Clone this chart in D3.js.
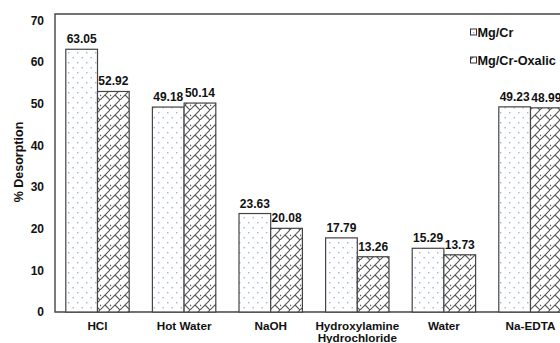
<!DOCTYPE html>
<html><head><meta charset="utf-8">
<script src="https://cdn.jsdelivr.net/npm/d3@7"></script>
<style>body{margin:0;background:#fff}svg{display:block;font-family:"Liberation Sans",Arial,sans-serif;font-weight:bold}</style>
</head><body><svg id="c" width="560" height="343"></svg>
<script>
const categories = ["HCl","Hot Water","NaOH","Hydroxylamine\nHydrochloride","Water","Na-EDTA"];
const series = ["Mg/Cr","Mg/Cr-Oxalic"];
const mgCr = [63.05,49.18,23.63,17.79,15.29,49.23];
const mgCrOxalic = [52.92,50.14,20.08,13.26,13.73,48.99];
const yTicks = [0,10,20,30,40,50,60,70];

const svg = d3.select("#c");
const defs = svg.append("defs");
const dots = defs.append("pattern").attr("id","dots").attr("patternUnits","userSpaceOnUse")
  .attr("width",9).attr("height",10).attr("x",66).attr("y",0);
dots.append("rect").attr("width",9).attr("height",10).attr("fill","#fff");
dots.append("rect").attr("x",2).attr("y",2).attr("width",1.4).attr("height",1.4).attr("fill","#a3aeea");
dots.append("rect").attr("x",6.5).attr("y",7).attr("width",1.4).attr("height",1.4).attr("fill","#a3aeea");
const brick = defs.append("pattern").attr("id","brick").attr("patternUnits","userSpaceOnUse")
  .attr("width",10).attr("height",10);
brick.append("rect").attr("width",10).attr("height",10).attr("fill","#fff");
brick.append("path").attr("d","M-1,11 L11,-1 M5,5 L10,10 M-1,4 L1,6 M9,-1 L11,1").attr("stroke","#555").attr("stroke-width",1.1).attr("fill","none");

const y = d3.scaleLinear().domain([0,70]).range([312,20.3]);
const x0 = d3.scaleBand().domain(categories).range([54.2,573.8]).paddingInner(0).paddingOuter(0);
const x1 = d3.scaleBand().domain(series).range([11.6, x0.bandwidth()-11.6]);
const vals = {"Mg/Cr":mgCr,"Mg/Cr-Oxalic":mgCrOxalic};
const fills = {"Mg/Cr":"url(#dots)","Mg/Cr-Oxalic":"url(#brick)"};

// frame
svg.append("path").attr("d","M560,14 L55,14 L55,312 L560,312").attr("fill","none").attr("stroke","#444").attr("stroke-width",1.4);

const g = svg.append("g");
series.forEach(s=>{
  categories.forEach((c,i)=>{
    const v = vals[s][i];
    const bx = x0(c)+x1(s);
    g.append("rect").attr("x",bx).attr("y",y(v)).attr("width",x1.bandwidth()).attr("height",y(0)-y(v))
      .attr("fill",fills[s]).attr("stroke","#444").attr("stroke-width",1.2);
    g.append("text").attr("x",bx+x1.bandwidth()/2).attr("y",y(v)-6).attr("text-anchor","middle")
      .attr("font-size",12).attr("fill","#111").text(v.toFixed(2));
  });
});

// y axis
const ya = svg.append("g").attr("transform","translate(55,0)")
  .call(d3.axisLeft(y).tickValues(yTicks).tickSize(0).tickPadding(11));
ya.select(".domain").remove();
ya.selectAll("text").attr("font-size",12).attr("font-family","Liberation Sans, Arial, sans-serif").attr("font-weight","bold").attr("fill","#111");

// x labels
const xa = svg.append("g");
categories.forEach(c=>{
  const lines = c.split("\n");
  const t = xa.append("text").attr("x",x0(c)+x0.bandwidth()/2).attr("y",330).attr("text-anchor","middle")
    .attr("font-size",11.7).attr("fill","#111");
  lines.forEach((l,k)=>t.append("tspan").attr("x",x0(c)+x0.bandwidth()/2).attr("dy",k?11.5:0).text(l));
});

// y title
svg.append("text").attr("transform","translate(23,162) rotate(-90)").attr("text-anchor","middle")
  .attr("font-size",12.5).attr("fill","#111").text("% Desorption");

// legend
series.forEach((s,i)=>{
  const ly = 32 + i*28;
  svg.append("rect").attr("x",470.5).attr("y",ly-3).attr("width",6).attr("height",6)
    .attr("fill",fills[s]).attr("stroke","#333").attr("stroke-width",1);
  svg.append("text").attr("x",477.5).attr("y",ly+4.5).attr("font-size",12.7).attr("fill","#111").text(s);
});
</script></body></html>
